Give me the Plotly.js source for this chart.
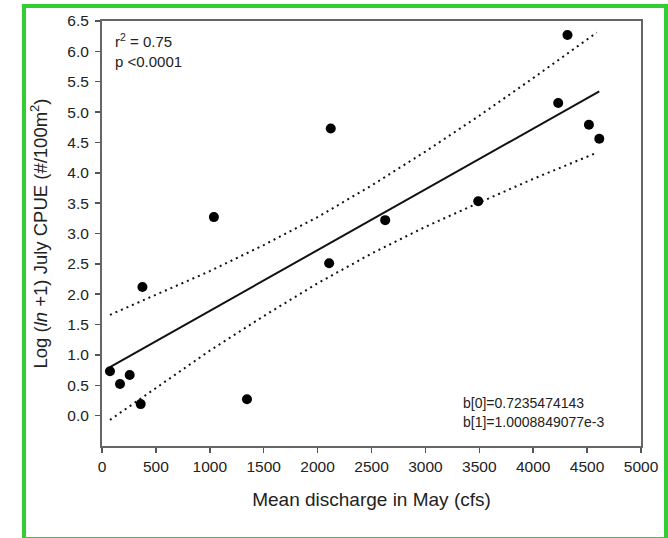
<!DOCTYPE html>
<html>
<head>
<meta charset="utf-8">
<script src="https://cdn.plot.ly/plotly-3.0.1.min.js"></script>
<style>
html,body{margin:0;padding:0;background:#fff;}
#chart{width:668px;height:538px;}
</style>
</head>
<body>
<div id="chart"></div>
<script>
// Observed data: mean discharge in May (cfs) vs log(ln+1) July CPUE
var dischargeX = [74, 167, 257, 359, 375, 1038, 1345, 2122, 2107, 2627, 3490, 4232, 4318, 4517, 4613];
var cpueY      = [0.73, 0.52, 0.67, 0.19, 2.12, 3.27, 0.27, 4.73, 2.51, 3.22, 3.53, 5.15, 6.27, 4.79, 4.56];

// Regression line endpoints
var fitX = [74, 4613];
var fitY = [0.80, 5.34];

// Confidence band (dotted)
var bandX     = [74, 500, 1000, 1500, 2000, 2500, 3000, 3500, 4000, 4590];
var bandUpper = [1.66, 1.99, 2.38, 2.81, 3.27, 3.79, 4.35, 4.94, 5.56, 6.31];
var bandLower = [-0.07, 0.46, 1.07, 1.64, 2.18, 2.67, 3.11, 3.51, 3.90, 4.33];

var xTicks = [0, 500, 1000, 1500, 2000, 2500, 3000, 3500, 4000, 4500, 5000];
var yTicks = [0.0, 0.5, 1.0, 1.5, 2.0, 2.5, 3.0, 3.5, 4.0, 4.5, 5.0, 5.5, 6.0, 6.5];

var FONT = 'Liberation Sans, Arial, sans-serif';
var TXT = '#222';

var traces = [
  {x: bandX, y: bandUpper, mode: 'lines', type: 'scatter',
   line: {color: '#111', width: 2, dash: '2px,4px'}, hoverinfo: 'skip', showlegend: false},
  {x: bandX, y: bandLower, mode: 'lines', type: 'scatter',
   line: {color: '#111', width: 2, dash: '2px,4px'}, hoverinfo: 'skip', showlegend: false},
  {x: fitX, y: fitY, mode: 'lines', type: 'scatter',
   line: {color: '#111', width: 2}, showlegend: false},
  {x: dischargeX, y: cpueY, mode: 'markers', type: 'scatter',
   marker: {color: '#000', size: 10}, showlegend: false}
];

var layout = {
  width: 668, height: 538,
  margin: {l: 102, r: 27, t: 21, b: 92},
  paper_bgcolor: '#fff', plot_bgcolor: '#fff',
  font: {family: FONT, size: 13, color: TXT},
  showlegend: false,
  xaxis: {
    range: [0, 5000], tickvals: xTicks, ticktext: xTicks.map(String),
    showgrid: false, zeroline: false,
    showline: true, mirror: true, linecolor: '#666', linewidth: 2,
    ticks: 'outside', ticklen: 5, tickwidth: 1.5, tickcolor: '#555',
    tickfont: {family: FONT, size: 15.5, color: TXT},
    title: {text: 'Mean discharge in May (cfs)', font: {family: FONT, size: 19, color: TXT}, standoff: 19}
  },
  yaxis: {
    range: [-0.5, 6.5], tickvals: yTicks, ticktext: yTicks.map(function(v){return v.toFixed(1);}),
    showgrid: false, zeroline: false,
    showline: true, mirror: true, linecolor: '#666', linewidth: 2,
    ticks: 'outside', ticklen: 5, tickwidth: 1.5, tickcolor: '#555',
    ticklabelstandoff: 3,
    tickfont: {family: FONT, size: 15.5, color: TXT},
    title: {text: 'Log (<i>ln</i> +1) July CPUE (#/100m<sup>2</sup>)', font: {family: FONT, size: 18.5, color: TXT}, standoff: 15}
  },
  annotations: [
    {xref: 'paper', yref: 'paper', x: 0.02, y: 0.955, xanchor: 'left', yanchor: 'middle',
     text: 'r<sup>2</sup> = 0.75', showarrow: false, font: {family: FONT, size: 15, color: TXT}},
    {xref: 'paper', yref: 'paper', x: 0.02, y: 0.905, xanchor: 'left', yanchor: 'middle',
     text: 'p <0.0001', showarrow: false, font: {family: FONT, size: 15, color: TXT}},
    {xref: 'paper', yref: 'paper', x: 0.666, y: 0.101, xanchor: 'left', yanchor: 'middle',
     text: 'b[0]=0.7235474143', showarrow: false, font: {family: FONT, size: 14, color: TXT}},
    {xref: 'paper', yref: 'paper', x: 0.666, y: 0.057, xanchor: 'left', yanchor: 'middle',
     text: 'b[1]=1.0008849077e-3', showarrow: false, font: {family: FONT, size: 14, color: TXT}}
  ],
  shapes: [
    {type: 'rect', xref: 'paper', yref: 'paper',
     x0: -0.1447, x1: 1.0464, y0: -0.2188, y1: 1.0353,
     line: {color: 'rgb(51,204,51)', width: 4}, layer: 'below'}
  ]
};

Plotly.newPlot('chart', traces, layout, {staticPlot: true, displayModeBar: false});
</script>
</body>
</html>
